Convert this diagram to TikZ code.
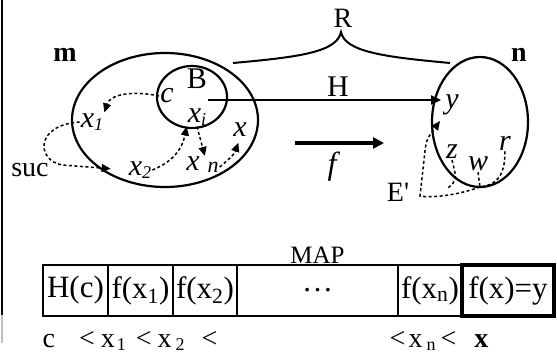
\documentclass[tikz,border=0pt]{standalone}
\usepackage{fontspec}
\setmainfont{Liberation Serif}
\usepackage{tikz}
\usetikzlibrary{positioning, shapes.geometric, arrows.meta}
\newcommand{\lowsub}[1]{\raisebox{-3pt}{\fontsize{18}{18}\selectfont #1}}

\begin{document}
\begin{tikzpicture}[
		x=1pt, y=-1pt,
		conjunto/.style={draw, ellipse, line width=2.2pt, inner sep=0pt, outer sep=0pt},
		rotulo/.style={font=\fontsize{28}{28}\selectfont, inner sep=1pt},
		elem/.style={font=\fontsize{30}{30}\selectfont\itshape, inner sep=1pt},
		celula/.style={draw, rectangle, line width=1.6pt, minimum height=51pt, inner sep=0pt, outer sep=0pt, font=\fontsize{31}{31}\selectfont},
		seta/.style={-{Triangle[length=10pt, width=9pt]}, line width=2pt},
		pontilhada/.style={-{Triangle[length=9pt, width=8pt]}, line width=1.5pt, dash pattern=on 3pt off 2.5pt},
		tracejada/.style={line width=1.5pt, dash pattern=on 3pt off 2.5pt}
		]
		
		\useasboundingbox (0,0) rectangle (557,356);
		\draw[line width=1.2pt] (2,0) -- (2,315);
		\draw[line width=1.2pt, gray!50] (2,315) -- (2,343);
		
		% Conjuntos
		\node[conjunto, minimum width=186pt, minimum height=134pt] (setm) at (165,120) {};
		\node[conjunto, minimum width=70pt, minimum height=62pt]   (setB) at (192,97)  {};
		\node[conjunto, minimum width=96pt, minimum height=130pt]  (setn) at (480,122) {};
		
		% Rotulos
		\node[rotulo, font=\fontsize{28}{28}\selectfont\bfseries] (lm)  at (65,55)  {m};
		\node[rotulo, font=\fontsize{28}{28}\selectfont\bfseries] (lnn) at (519,55) {n};
		\node[rotulo, font=\fontsize{30}{30}\selectfont] (lB) at (197,79) {B};
		\node[rotulo] (lsuc) at (30,170)  {suc};
		\node[rotulo] (lR)   at (343,18)  {R};
		\node[rotulo, font=\fontsize{30}{30}\selectfont] (lH) at (338,87) {H};
		\node[rotulo] (lE) at (398,192) {E\textquotesingle};
		
		% Elementos
		\node[elem] (lc)   at (167,96)  {c};
		\node[elem] (lx1)  at (92,122)  {x\lowsub{1}};
		\node[elem] (lxi)  at (197,117) {x\lowsub{i}};
		\node[elem] (lx)   at (240,130) {x};
		\node[elem] (lx2)  at (140,170) {x\lowsub{2}};
		\node[elem] (lxn)  at (193,164) {x};
		\node[elem, font=\fontsize{22}{22}\selectfont\itshape] (lsubn) at (213,167) {n};
		\node[elem] (ly)   at (452,105) {y};
		\node[elem] (lz)   at (452,152) {z};
		\node[elem] (lw)   at (478,164) {w};
		\node[elem] (lr)   at (505,143) {r};
		\node[elem, font=\fontsize{32}{32}\selectfont\itshape] (lf) at (332,167) {f};
		
		% Chave R
		\draw[line width=2pt] (233,63) .. controls (300,57) and (337,52) .. (341,32)
			.. controls (345,52) and (385,57) .. (450,63);
		
		% Setas H e f
		\coordinate (hini) at (208,100);
		\coordinate (hfim) at (441,100);
		\draw[seta] (hini) -- (hfim);
		\coordinate (fini) at (295,143);
		\coordinate (ffim) at (384,143);
		\draw[-{Triangle[length=11pt, width=11pt]}, line width=4pt] (fini) -- (ffim);
		
		% Sucessores em m
		\draw[pontilhada] (lc.west) .. controls (130,90) and (110,95) .. (lx1.north east);
		\draw[pontilhada, shorten >=17pt] (lx1.west) .. controls (35,125) and (36,160) .. (62,165) -- (lx2.west);
		\draw[pontilhada] (lx2.east) .. controls (172,162) and (182,150) .. (lxi.south west);
		\draw[pontilhada] (lxi.south) -- ([xshift=4pt]lxn.north east);
		\draw[pontilhada, shorten >=5pt] (lsubn.east) .. controls (228,160) and (234,155) .. (lx.south);
		
		% Caminho E' em n
		\coordinate (etopo) at (440,121);
		\draw[pontilhada] (setn.south) .. controls (455,196) and (430,198) .. (420,196)
			-- (424,160) .. controls (426,140) .. (etopo);
		\draw[tracejada] (lz.south) .. controls (457,180) .. (448,188);
		\draw[tracejada] (lw.south) -- (setn.south);
		\draw[tracejada] (lr.south) .. controls (505,178) and (495,185) .. (setn.south);
		
		% Tabela MAP
		\node[celula, minimum width=65pt] (hc) at (75.5,290.5) {H(c)};
		\node[celula, minimum width=65pt, right=0pt of hc]   (fx1)  {f(x\textsubscript{1})};
		\node[celula, minimum width=64pt, right=0pt of fx1]  (fx2)  {f(x\textsubscript{2})};
		\node[celula, minimum width=161pt, right=0pt of fx2] (dots) {\dots};
		\node[celula, minimum width=64pt, right=0pt of dots] (fxn)  {f(x\textsubscript{n})};
		\node[celula, minimum width=92pt, line width=3.5pt, right=0pt of fxn] (fxy) {f(x)=y};
		\node[rotulo, font=\fontsize{25}{25}\selectfont, above=0pt of dots] (map) {MAP};
		
		% Ordem
		\node[rotulo, inner sep=0pt, anchor=base] (ordem1) at (130,347)
			{c\hspace{24pt}<\hspace{6pt}x\hspace{2pt}\lowsub{1}\hspace{10pt}<\hspace{6pt}x\hspace{4pt}\lowsub{2}\hspace{17pt}<};
		\node[rotulo, inner sep=0pt, anchor=base] (ordem2) at (439,347)
			{<\hspace{3pt}x\hspace{4pt}\lowsub{n}\hspace{5pt}<\hspace{18pt}\textbf{x}};
		
	\end{tikzpicture}
\end{document}
